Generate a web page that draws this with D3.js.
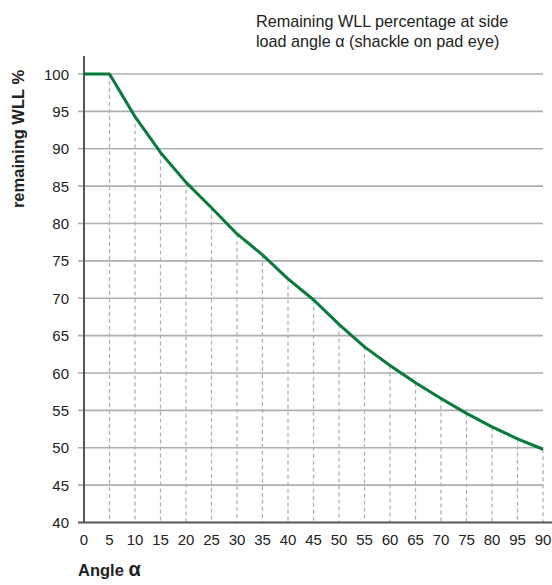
<!DOCTYPE html>
<html>
<head>
<meta charset="utf-8">
<script src="https://cdn.jsdelivr.net/npm/d3@7"></script>
<style>
  body { margin: 0; background: #fff; }
  text { font-family: "Liberation Sans", Arial, sans-serif; fill: #222; }
</style>
</head>
<body>
<div id="chart"></div>
<script>
// Data
const angles = [0, 5, 10, 15, 20, 25, 30, 35, 40, 45, 50, 55, 60, 65, 70, 75, 80, 85, 90];
const remaining = [100, 100, 94.3, 89.5, 85.5, 82.1, 78.6, 75.8, 72.6, 69.8, 66.5, 63.5, 61.0, 58.7, 56.6, 54.6, 52.8, 51.2, 49.8];
// x tick labels as printed (the original has "95" where 85 should be)
const xTickLabels = ["0", "5", "10", "15", "20", "25", "30", "35", "40", "45", "50", "55", "60", "65", "70", "75", "80", "95", "90"];
const yTicks = [40, 45, 50, 55, 60, 65, 70, 75, 80, 85, 90, 95, 100];

const W = 552, H = 585;
const margin = { top: 74, right: 9, bottom: 63, left: 84 };

const svg = d3.select("#chart").append("svg")
    .attr("width", W)
    .attr("height", H);

const x = d3.scaleLinear().domain([0, 90]).range([margin.left, W - margin.right]);
const y = d3.scaleLinear().domain([40, 100]).range([H - margin.bottom + 0.5, margin.top]);

// Horizontal gridlines
svg.append("g")
    .selectAll("line")
    .data(yTicks.filter(d => d > 40))
    .enter()
    .append("line")
    .attr("x1", margin.left - 6)
    .attr("x2", W - margin.right)
    .attr("y1", d => y(d))
    .attr("y2", d => y(d))
    .attr("stroke", "#aeaeb2")
    .attr("stroke-width", 1.6);

// Dashed drop lines from each point
svg.append("g")
    .selectAll("line")
    .data(angles.filter(d => d > 0))
    .enter()
    .append("line")
    .attr("x1", d => x(d))
    .attr("x2", d => x(d))
    .attr("y1", (d, i) => y(remaining[i + 1]))
    .attr("y2", y(40))
    .attr("stroke", "#aeaeb2")
    .attr("stroke-width", 1.2)
    .attr("stroke-dasharray", "4,3");

// Axes lines
svg.append("line")
    .attr("x1", margin.left).attr("x2", margin.left)
    .attr("y1", 56).attr("y2", y(40))
    .attr("stroke", "#555").attr("stroke-width", 2);
svg.append("line")
    .attr("x1", margin.left - 6).attr("x2", W)
    .attr("y1", y(40)).attr("y2", y(40))
    .attr("stroke", "#555").attr("stroke-width", 2);

// Y tick labels
svg.append("g")
    .selectAll("text")
    .data(yTicks)
    .enter()
    .append("text")
    .attr("x", margin.left - 15)
    .attr("y", d => y(d) + 5.5)
    .attr("text-anchor", "end")
    .attr("font-size", 15)
    .text(d => d);

// X tick labels
svg.append("g")
    .selectAll("text")
    .data(angles)
    .enter()
    .append("text")
    .attr("x", d => x(d))
    .attr("y", 545)
    .attr("text-anchor", "middle")
    .attr("font-size", 15)
    .text((d, i) => xTickLabels[i]);

// The curve
const line = d3.line()
    .x((d, i) => x(angles[i]))
    .y(d => y(d));

svg.append("path")
    .datum(remaining)
    .attr("fill", "none")
    .attr("stroke", "#087a3a")
    .attr("stroke-width", 3)
    .attr("stroke-linejoin", "round")
    .attr("d", line);

// Titles
const title = svg.append("text")
    .attr("x", 256)
    .attr("y", 27)
    .attr("font-size", 16.2);
title.append("tspan").attr("x", 256).text("Remaining WLL percentage at side");
title.append("tspan").attr("x", 256).attr("dy", 20).text("load angle α (shackle on pad eye)");

svg.append("text")
    .attr("transform", "translate(24,139) rotate(-90)")
    .attr("text-anchor", "middle")
    .attr("font-size", 16.5)
    .attr("font-weight", "bold")
    .text("remaining WLL %");

const xl = svg.append("text")
    .attr("x", 78)
    .attr("y", 576)
    .attr("font-size", 16.5)
    .attr("font-weight", "bold");
xl.append("tspan").text("Angle ");
xl.append("tspan").attr("font-size", 20).text("α");
</script>
</body>
</html>
